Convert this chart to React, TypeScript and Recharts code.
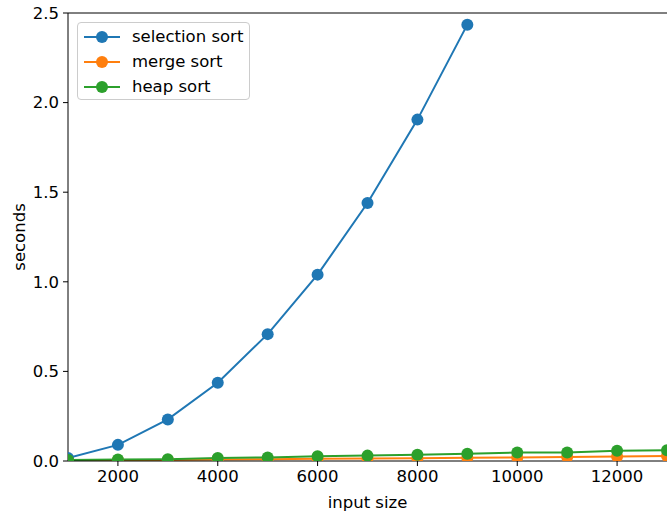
import { LineChart, Line, XAxis, YAxis, ReferenceLine } from 'recharts';

const sizes = [1000, 2000, 3000, 4000, 5000, 6000, 7000, 8000, 9000, 10000, 11000, 12000, 13000];
const selectionSort = [0.017, 0.09, 0.232, 0.437, 0.708, 1.04, 1.44, 1.905, 2.435];
const mergeSort = [0.002, 0.004, 0.006, 0.008, 0.01, 0.012, 0.014, 0.016, 0.018, 0.02, 0.022, 0.025, 0.028];
const heapSort = [0.005, 0.008, 0.01, 0.017, 0.02, 0.027, 0.03, 0.035, 0.04, 0.047, 0.048, 0.057, 0.06];
const xTicks = [2000, 4000, 6000, 8000, 10000, 12000];
const yTicks = [0, 0.5, 1.0, 1.5, 2.0, 2.5];

const series = [
  { key: 'selection', name: 'selection sort', color: '#1f77b4' },
  { key: 'merge', name: 'merge sort', color: '#ff7f0e' },
  { key: 'heap', name: 'heap sort', color: '#2ca02c' },
];

const data = sizes.map((n, i) => ({
  n,
  selection: selectionSort[i],
  merge: mergeSort[i],
  heap: heapSort[i],
}));

const font = 'DejaVu Sans, sans-serif';
const fs = 16.5;

const LegendBox = () => (
  <div
    style={{
      position: 'absolute',
      left: 77,
      top: 22,
      width: 173,
      height: 78,
      boxSizing: 'border-box',
      border: '1px solid #cccccc',
      borderRadius: 4,
      background: 'rgba(255,255,255,0.8)',
      padding: '1px 0 0 6px',
      fontFamily: font,
      fontSize: fs,
      color: '#000',
    }}
  >
    {series.map((s) => (
      <div key={s.key} style={{ display: 'flex', alignItems: 'center', height: 25 }}>
        <svg width={36} height={14} style={{ marginRight: 12 }}>
          <line x1={0} y1={7} x2={36} y2={7} stroke={s.color} strokeWidth={2} />
          <circle cx={18} cy={7} r={6} fill={s.color} />
        </svg>
        <span>{s.name}</span>
      </div>
    ))}
  </div>
);

export default function App() {
  return (
    <div style={{ position: 'fixed', left: 0, top: 0, width: 667, height: 512, background: '#fff' }}>
      <LineChart width={667} height={512} data={data} margin={{ top: 13, right: 0, bottom: 0, left: 0 }}>
        <XAxis
          dataKey="n"
          type="number"
          domain={[1000, 13000]}
          ticks={xTicks}
          allowDataOverflow
          stroke="#000"
          tickSize={5}
          tickMargin={4}
          tick={{ fill: '#000', fontSize: fs, fontFamily: font }}
          height={51}
          label={{ value: 'input size', position: 'insideBottom', offset: 4, fill: '#000', fontSize: fs, fontFamily: font }}
        />
        <YAxis
          type="number"
          domain={[0, 2.5]}
          ticks={yTicks}
          allowDataOverflow
          stroke="#000"
          tickSize={5}
          tickMargin={4}
          width={68}
          tickFormatter={(v: number) => v.toFixed(1)}
          tick={{ fill: '#000', fontSize: fs, fontFamily: font }}
          label={{ value: 'seconds', angle: -90, position: 'insideLeft', offset: 19, fill: '#000', fontSize: fs, fontFamily: font, style: { textAnchor: 'middle' } }}
        />
        <ReferenceLine y={2.5} stroke="#000" strokeWidth={1} />
        {series.map((s) => (
          <Line
            key={s.key}
            dataKey={s.key}
            name={s.name}
            type="linear"
            stroke={s.color}
            strokeWidth={2}
            dot={{ r: 6, fill: s.color, stroke: s.color, strokeWidth: 0 }}
            isAnimationActive={false}
          />
        ))}
      </LineChart>
      <LegendBox />
    </div>
  );
}
